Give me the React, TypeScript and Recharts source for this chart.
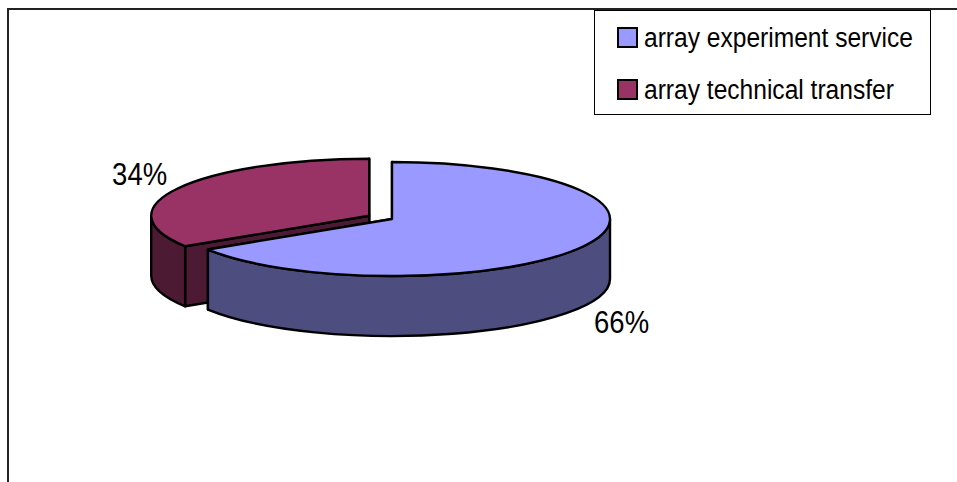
import { PieChart, Pie, Cell, Legend } from "recharts";

// Draw order is back to front: the pulled-out slice sits behind the main one.
const categories = ["array technical transfer", "array experiment service"];
const shares = [34, 66];
const sliceColors = ["#993366", "#9999FF"];
const data = categories.map((name, i) => ({ name, value: shares[i] }));

const WIDTH = 957;
const HEIGHT = 482;
const CX = 392;
const CY = 219;
const RADIUS = 218;
const TILT = 57 / 218; // vertical squash of the disc
const DEPTH = 60;
const EXPLODE = [26, 0];
const FONT = '"Liberation Sans", Arial, sans-serif';

// main slice starts at twelve o'clock, so the rear slice starts before it
const START_ANGLE = 90 + (360 * shares[0]) / 100;

const darken = (hex: string) => {
  const n = parseInt(hex.slice(1), 16);
  const half = (v: number) => Math.round(v / 2);
  return `rgb(${half(n >> 16)},${half((n >> 8) & 255)},${half(n & 255)})`;
};

function Slice3D(props: any) {
  const { cx, cy, outerRadius, startAngle, endAngle, fill, index } = props;
  const mid = ((startAngle + endAngle) / 2) * (Math.PI / 180);
  const ox = cx + EXPLODE[index] * Math.cos(mid);
  const oy = cy - EXPLODE[index] * TILT * Math.sin(mid);
  const rx = outerRadius;
  const ry = outerRadius * TILT;
  const pt = (a: number, drop = 0) => {
    const rad = (a * Math.PI) / 180;
    return `${ox + rx * Math.cos(rad)} ${oy - ry * Math.sin(rad) + drop}`;
  };
  const large = startAngle - endAngle > 180 ? 1 : 0;
  const top = `M${ox} ${oy}L${pt(startAngle)}A${rx} ${ry} 0 ${large} 1 ${pt(endAngle)}Z`;

  // only the lower half of the rim faces the viewer
  const walls: string[] = [];
  for (const k of [0, 1]) {
    const hi = Math.min(startAngle, 360 * k);
    const lo = Math.max(endAngle, 360 * k - 180);
    if (hi > lo) {
      walls.push(
        `M${pt(hi)}A${rx} ${ry} 0 0 1 ${pt(lo)}L${pt(lo, DEPTH)}A${rx} ${ry} 0 0 0 ${pt(hi, DEPTH)}Z`
      );
    }
  }
  const cut = (a: number) =>
    `M${ox} ${oy}L${pt(a)}L${pt(a, DEPTH)}L${ox} ${oy + DEPTH}Z`;
  const side = darken(fill);
  const line = { stroke: "#000", strokeWidth: 2.4, strokeLinejoin: "round" as const };

  return (
    <g>
      <path d={cut(startAngle)} fill={side} {...line} />
      <path d={cut(endAngle)} fill={side} {...line} />
      {walls.map((d) => (
        <path key={d} d={d} fill={side} {...line} />
      ))}
      <path d={top} fill={fill} {...line} />
    </g>
  );
}

function PercentLabel(props: any) {
  const { cx, cy, midAngle, percent, index } = props;
  const rad = (midAngle * Math.PI) / 180;
  const reach = 262 + EXPLODE[index];
  const x = cx + reach * Math.cos(rad);
  const lower = Math.sin(rad) < 0;
  const y = cy - reach * 0.326 * Math.sin(rad) + (lower ? DEPTH + 2 : 1);
  return (
    <text
      x={x}
      y={y}
      textAnchor="middle"
      dominantBaseline="central"
      fontFamily={FONT}
      fontSize={31}
      textLength={55}
      lengthAdjust="spacingAndGlyphs"
      fill="#000"
    >
      {`${Math.round(percent * 100)}%`}
    </text>
  );
}

function LegendBox({ payload }: any) {
  const items = [...(payload ?? [])].sort((a: any, b: any) =>
    String(a.value).localeCompare(String(b.value))
  );
  return (
    <div
      style={{
        boxSizing: "border-box",
        width: 337,
        height: 105,
        border: "1px solid #000",
        background: "#fff",
        fontFamily: FONT,
        fontSize: 27,
        color: "#000",
      }}
    >
      {items.map((item: any) => (
        <div
          key={item.value}
          style={{ display: "flex", alignItems: "center", height: 52, marginLeft: 22 }}
        >
          <span
            style={{
              boxSizing: "border-box",
              flexShrink: 0,
              width: 21,
              height: 21,
              marginRight: 6,
              border: "2px solid #000",
              background: item.color,
            }}
          />
          {/* the legend face is a little narrower than the stock Liberation width */}
          <span
            style={{
              display: "inline-block",
              transform: "scaleX(0.91) translateY(1px)",
              transformOrigin: "left center",
              whiteSpace: "nowrap",
            }}
          >
            {item.value}
          </span>
        </div>
      ))}
    </div>
  );
}

export default function App() {
  return (
    <div style={{ position: "absolute", left: 0, top: 0, width: WIDTH, height: HEIGHT, overflow: "hidden", background: "#fff" }}>
      <div
        style={{
          position: "absolute",
          left: 7,
          top: 8,
          right: 0,
          bottom: 0,
          borderLeft: "2px solid #222",
          borderTop: "2px solid #222",
        }}
      />
      <PieChart
        width={WIDTH}
        height={HEIGHT}
        margin={{ top: 0, right: 0, bottom: 0, left: 0 }}
        style={{ position: "absolute", left: 0, top: 0 }}
      >
        <Pie
          data={data}
          dataKey="value"
          nameKey="name"
          cx={CX}
          cy={CY}
          innerRadius={0}
          outerRadius={RADIUS}
          startAngle={START_ANGLE}
          endAngle={START_ANGLE - 360}
          stroke="none"
          shape={Slice3D}
          label={PercentLabel}
          labelLine={false}
          isAnimationActive={false}
        >
          {data.map((entry, i) => (
            <Cell key={entry.name} fill={sliceColors[i]} />
          ))}
        </Pie>
        <Legend
          content={<LegendBox />}
          layout="vertical"
          wrapperStyle={{ position: "absolute", left: 594, top: 10, width: 337 }}
        />
      </PieChart>
    </div>
  );
}
